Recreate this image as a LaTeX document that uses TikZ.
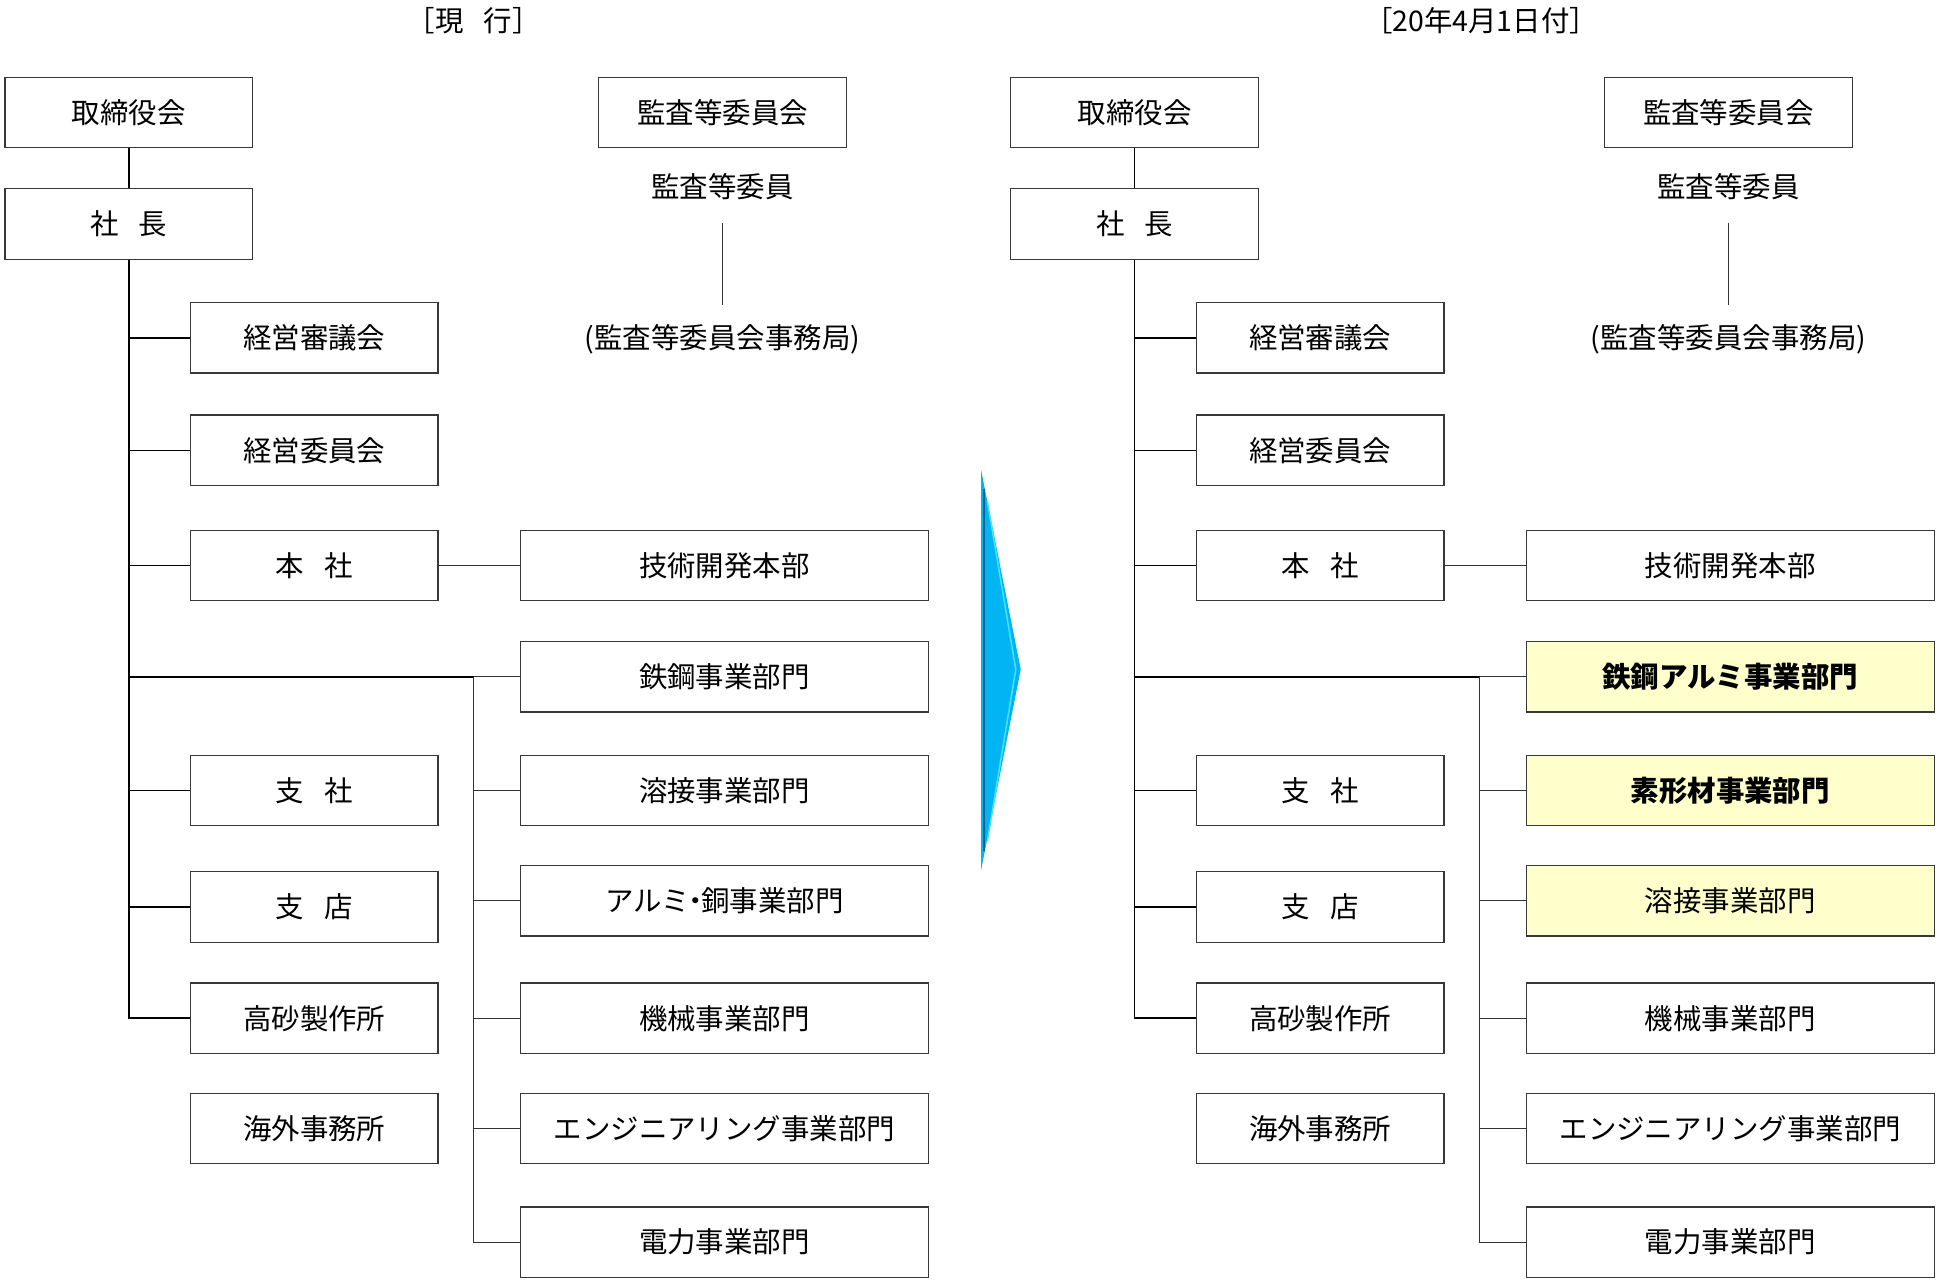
\documentclass[tikz,border=0pt]{standalone}
\usepackage{fontspec}
\setmainfont{Noto Sans CJK JP}
\usetikzlibrary{positioning}
\definecolor{boxline}{rgb}{0.22,0.22,0.22}
\definecolor{newyellow}{rgb}{1.00,1.00,0.80}
\definecolor{arrowblue}{rgb}{0.00,0.71,0.95}
\definecolor{arrowdark}{rgb}{0.05,0.38,0.55}
\definecolor{arrowlight}{rgb}{0.30,0.88,1.00}
\newcommand\jsp{\hspace{0.7em}}
\tikzset{
  orgbox/.style={draw=boxline,line width=1pt,minimum width=200pt,minimum height=57pt,
    inner sep=0pt,font=\fontsize{23}{23}\selectfont},
  unitbox/.style={orgbox,minimum width=330pt},
  newunit/.style={unitbox,fill=newyellow},
  plaintext/.style={inner sep=0pt,font=\fontsize{23}{23}\selectfont},
  trunk/.style={line width=1.4pt},
  busline/.style={line width=1.8pt},
  branch/.style={line width=1pt,draw=black!80},
}
% part shared by both charts
\newcommand\orgcommon{%
  \node[orgbox] (board) at (104,91) {取締役会};
  \node[orgbox] (pres) at (104,181) {社\jsp 長};
  \node[orgbox] (audit) at (584,91) {監査等委員会};
  \node[plaintext] (auditor) at (584,151) {監査等委員};
  \node[plaintext] (office) at (584,274) {(監査等委員会事務局)};
  \node[orgbox] (shingi) at (254,273) {経営審議会};
  \node[orgbox] (iinkai) at (254,364) {経営委員会};
  \node[orgbox] (honsha) at (254,457) {本\jsp 社};
  \node[orgbox] (shisha) at (254,639) {支\jsp 社};
  \node[orgbox] (shiten) at (254,733) {支\jsp 店};
  \node[orgbox] (takasago) at (254,823) {高砂製作所};
  \node[orgbox] (kaigai) at (254,912) {海外事務所};
  \node[unitbox] (gijutsu) at (585.5,457) {技術開発本部};
  \draw[trunk] (board) -- (pres);
  \draw[trunk] (pres.south) |- (takasago.west);
  \foreach \n in {shingi,iinkai,honsha,shisha,shiten}
    \draw[trunk] (pres.south |- \n.west) -- (\n.west);
  \draw[branch] (honsha) -- (gijutsu);
  \draw[branch,shorten <=18pt,shorten >=15pt] (auditor) -- (office);
}
% bus to the business divisions
\newcommand\orgbus{%
  \coordinate (bus) at (383,547);
  \draw[busline] (pres.south |- bus) -- (bus);
  \draw[branch] (bus) -- (u1.west);
  \draw[branch] (bus) |- (u6.west);
  \foreach \n in {u2,u3,u4,u5}
    \draw[branch] (bus |- \n.west) -- (\n.west);
}

\begin{document}
\begin{tikzpicture}[x=1pt,y=-1pt]
\useasboundingbox (0,0) rectangle (1568,1037);

% current
\node[plaintext] (oldtitle) at (383,17) {［現\jsp 行］};
\begin{scope}[name prefix=L-]
  \orgcommon
  \node[unitbox] (u1) at (585.5,547) {鉄鋼事業部門};
  \node[unitbox] (u2) at (585.5,639) {溶接事業部門};
  \node[unitbox] (u3) at (585.5,728) {アルミ\hspace{-0.3em}・\hspace{-0.3em}銅事業部門};
  \node[unitbox] (u4) at (585.5,823) {機械事業部門};
  \node[unitbox] (u5) at (585.5,912) {エンジニアリング事業部門};
  \node[unitbox] (u6) at (585.5,1004) {電力事業部門};
  \orgbus
\end{scope}

% arrow
\fill[arrowblue] (793,380) -- (825,541) -- (793,703) -- cycle;
\draw[arrowlight,line width=1.2pt] (798,405) -- (821,541) -- (798,680);
\draw[arrowdark,line width=1.6pt] (795.5,395) -- (795.5,688);

% from 1 April
\node[plaintext] (newtitle) at (1197,17) {［20年4月1日付］};
\begin{scope}[xshift=813pt,name prefix=R-]
  \orgcommon
  \node[newunit,font=\fontsize{23}{23}\selectfont\bfseries] (u1) at (585.5,547) {鉄鋼アルミ事業部門};
  \node[newunit,font=\fontsize{23}{23}\selectfont\bfseries] (u2) at (585.5,639) {素形材事業部門};
  \node[newunit] (u3) at (585.5,728) {溶接事業部門};
  \node[unitbox] (u4) at (585.5,823) {機械事業部門};
  \node[unitbox] (u5) at (585.5,912) {エンジニアリング事業部門};
  \node[unitbox] (u6) at (585.5,1004) {電力事業部門};
  \orgbus
\end{scope}
\end{tikzpicture}
\end{document}
